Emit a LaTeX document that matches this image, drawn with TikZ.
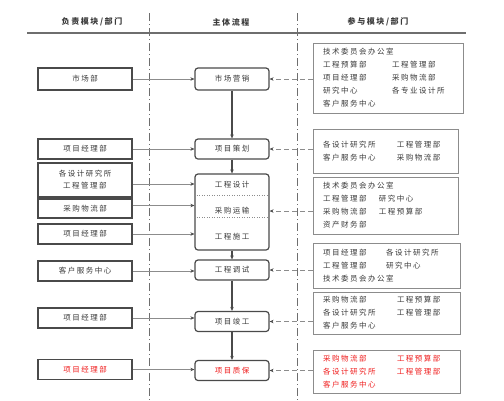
\documentclass[tikz,border=0pt]{standalone}
\usepackage{fontspec}
\usepackage{xcolor}
\newfontfamily\cjk[LetterSpace=20]{Noto Sans CJK SC}
\usetikzlibrary{arrows.meta, positioning, calc}
\definecolor{ink}{HTML}{3A3A3A}
\definecolor{frame}{HTML}{4A4A4A}
\definecolor{soft}{HTML}{8C8C8C}
\definecolor{lane}{HTML}{6E6E6E}
\definecolor{alert}{HTML}{F01E1E}
\newcommand\pair[3][69pt]{\makebox[#1][l]{#2}#3}
\tikzset{
  head/.style={font=\cjk\fontsize{8}{10}\selectfont\bfseries, text=ink},
  owner/.style={
    rectangle, draw=frame, fill=white, line width=1.1pt,
    minimum width=94pt, minimum height=20pt, inner sep=1pt,
    align=center, font=\cjk\fontsize{7.5}{12}\selectfont, text=ink
  },
  flow/.style={
    rectangle, rounded corners=3pt,
    draw=frame, fill=white, line width=1.2pt,
    minimum width=74pt, minimum height=20pt, inner sep=1pt,
    align=center, font=\cjk\fontsize{7.5}{12}\selectfont, text=ink
  },
  flowtext/.style={font=\cjk\fontsize{7.5}{12}\selectfont, text=ink},
  party/.style={
    rectangle, draw=soft, fill=white, line width=0.8pt,
    inner xsep=10pt, inner ysep=2pt, align=left,
    font=\cjk\fontsize{7.5}{13}\selectfont, text=ink
  },
  rule/.style={draw=lane, line width=1.1pt},
  lanesep/.style={draw=lane, line width=1pt, dash pattern=on 8pt off 3pt on 1pt off 3pt},
  sep/.style={draw=soft, line width=0.5pt, dotted},
  feed/.style={-{Stealth[length=4pt,width=3.5pt,color=frame]}, draw=soft, line width=0.7pt},
  step arrow/.style={-{Stealth[length=4pt,width=3.5pt]}, draw=frame, line width=1.2pt},
  assist/.style={-{Stealth[length=4pt,width=3.5pt,color=frame]}, draw=soft, line width=0.9pt,
                 dash pattern=on 5pt off 3pt},
}

\begin{document}
\begin{tikzpicture}[x=1pt, y=-1pt]
  \useasboundingbox (0,0) rectangle (504,400);

  % header and swimlanes
  \node[head] (hleft) at (92,22) {负责模块/部门};
  \node[head] (hmid) at (231,22) {主体流程};
  \node[head] (hright) at (378,22) {参与模块/部门};
  \coordinate (rule-l) at (27,33);
  \coordinate (rule-r) at (466,33);
  \draw[rule] (rule-l) -- (rule-r);
  \coordinate (lane1-top) at (149,13);
  \coordinate (lane1-bot) at (149,400);
  \coordinate (lane2-top) at (297,13);
  \coordinate (lane2-bot) at (297,400);
  \draw[lanesep] (lane1-top) -- (lane1-bot);
  \draw[lanesep] (lane2-top) -- (lane2-bot);

  % main flow
  \node[flow, minimum height=22pt] (market) at (232,79) {市场营销};
  \node[flow] (plan) at (232,149) {项目策划};
  \node[flow, minimum height=76pt] (build) at (232,212) {};
  \node[flowtext] (design) at (232,185) {工程设计};
  \node[flowtext] (purchase) at (232,211) {采购运输};
  \node[flowtext] (construct) at (232,237) {工程施工};
  \draw[sep] ([yshift=-22pt]build.north west) -- ([yshift=-22pt]build.north east);
  \draw[sep] ([yshift=-44pt]build.north west) -- ([yshift=-44pt]build.north east);
  \node[flow] (debug) at (232,270) {工程调试};
  \node[flow] (finish) at (232,321.5) {项目竣工};
  \node[flow, text=alert] (warranty) at (232,370.5) {项目质保};

  \draw[step arrow] (market) -- (plan);
  \draw[step arrow] (plan) -- (build);
  \draw[step arrow] (build) -- (debug);
  \draw[step arrow] (debug) -- (finish);
  \draw[step arrow] (finish) -- (warranty);

  % responsible departments
  \node[owner, minimum height=22pt] (o-market) at (85,79) {市场部};
  \node[owner] (o-plan) at (85,149) {项目经理部};
  \node[owner, minimum height=34pt] (o-design) at (85,180) {各设计研究所\\工程管理部};
  \node[owner, minimum height=19pt] (o-purchase) at (85,208.5) {采购物流部};
  \node[owner] (o-construct) at (85,234) {项目经理部};
  \node[owner] (o-debug) at (85,271) {客户服务中心};
  \node[owner] (o-finish) at (85,318) {项目经理部};
  \node[owner, text=alert] (o-warranty) at (85,369.5) {项目经理部};

  \draw[feed] (o-market) -- (o-market -| market.west);
  \draw[feed] (o-plan) -- (o-plan -| plan.west);
  \draw[feed] ([yshift=-4pt]o-design.east) -- ([yshift=-4pt]o-design.east -| build.west);
  \draw[feed] ([yshift=3pt]o-purchase.east) -- ([yshift=3pt]o-purchase.east -| build.west);
  \draw[feed] (o-construct) -- (o-construct -| build.west);
  \draw[feed] (o-debug) -- (o-debug -| debug.west);
  \draw[feed] (o-finish) -- (o-finish -| finish.west);
  \draw[feed] (o-warranty) -- (o-warranty -| warranty.west);

  % participating departments
  \node[party, text width=130pt, minimum height=70pt] (p-market) at (388,78)
    {技术委员会办公室\\
     \pair{工程预算部}{工程管理部}\\
     \pair{项目经理部}{采购物流部}\\
     \pair{研究中心}{各专业设计所}\\
     客户服务中心};
  \node[party, text width=125pt, minimum height=44pt] (p-plan) at (385.5,151)
    {\pair[74pt]{各设计研究所}{工程管理部}\\
     \pair[74pt]{客户服务中心}{采购物流部}};
  \node[party, text width=125pt, minimum height=57pt] (p-build) at (385.5,205.5)
    {技术委员会办公室\\
     \pair[56pt]{工程管理部}{研究中心}\\
     \pair[56pt]{采购物流部}{工程预算部}\\
     资产财务部};
  \node[party, text width=127pt, minimum height=45pt] (p-debug) at (386.5,265.5)
    {\pair[63pt]{项目经理部}{各设计研究所}\\
     \pair[63pt]{工程管理部}{研究中心}\\
     技术委员会办公室};
  \node[party, text width=127pt, minimum height=42pt] (p-finish) at (386.5,313)
    {\pair[74pt]{采购物流部}{工程预算部}\\
     \pair[74pt]{各设计研究所}{工程管理部}\\
     客户服务中心};
  \node[party, text width=127pt, minimum height=43pt, text=alert] (p-warranty) at (386.5,371.5)
    {\pair[74pt]{采购物流部}{工程预算部}\\
     \pair[74pt]{各设计研究所}{工程管理部}\\
     客户服务中心};

  \draw[assist] (p-market.west |- market.east) -- (market.east);
  \draw[assist] (p-plan.west |- plan.east) -- (plan.east);
  \draw[assist] (p-build.west |- purchase.east) -- (purchase.east -| build.east);
  \draw[assist] (p-debug.west |- debug.east) -- (debug.east);
  \draw[assist] (p-finish.west |- finish.east) -- (finish.east);
  \draw[assist] (p-warranty.west |- warranty.east) -- (warranty.east);
\end{tikzpicture}
\end{document}
